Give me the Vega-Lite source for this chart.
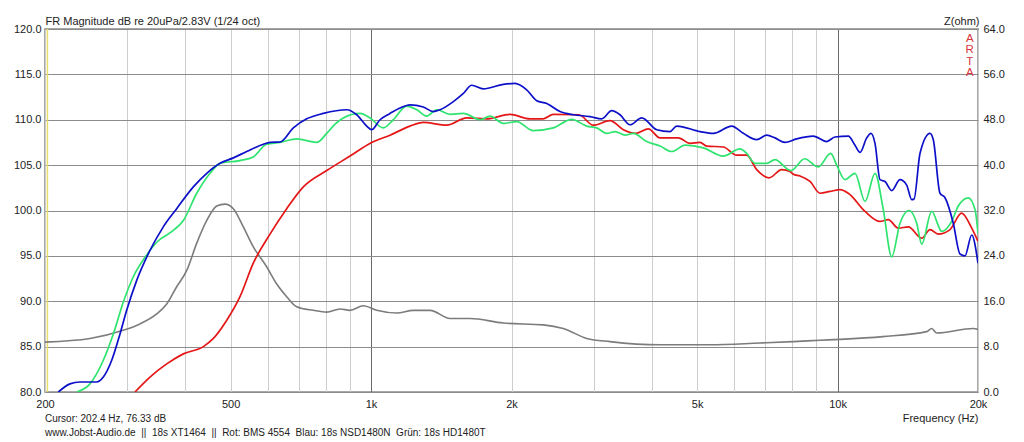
{
  "$schema": "https://vega.github.io/schema/vega-lite/v6.json",
  "description": "ARTA frequency response, 18s XT1464 with three compression drivers, plus impedance",
  "width": 933,
  "height": 363,
  "autosize": {"type": "none"},
  "padding": {"left": 45, "top": 29, "right": 46, "bottom": 50},
  "background": "white",
  "config": {
    "font": "Liberation Sans",
    "view": {"stroke": "#8a8a8a", "strokeWidth": 1.5},
    "axis": {
      "labelFont": "Liberation Sans", "labelFontSize": 11, "labelColor": "#222",
      "titleFont": "Liberation Sans", "titleFontSize": 11, "titleFontWeight": "normal", "titleColor": "#222",
      "ticks": false, "domain": false
    }
  },
  "title": {
    "text": "Cursor: 202.4 Hz, 76.33 dB",
    "subtitle": "www.Jobst-Audio.de \u00a0||\u00a0 18s XT1464 \u00a0||\u00a0 Rot: BMS 4554 \u00a0Blau: 18s NSD1480N \u00a0Grün: 18s HD1480T",
    "orient": "bottom", "anchor": "start", "frame": "group", "offset": -9,
    "font": "Liberation Sans", "fontSize": 10, "fontWeight": "normal", "color": "#222",
    "subtitleFont": "Liberation Sans", "subtitleFontSize": 10, "subtitleColor": "#222", "subtitlePadding": 4
  },
  "datasets": {
    "fr": [
      {"s": "Rot", "f": 311.8, "db": 80.0}, {"s": "Rot", "f": 335.8, "db": 81.65}, {"s": "Rot", "f": 364.7, "db": 83.1},
      {"s": "Rot", "f": 395.9, "db": 84.2}, {"s": "Rot", "f": 437, "db": 85.0}, {"s": "Rot", "f": 459.2, "db": 85.9},
      {"s": "Rot", "f": 490.5, "db": 87.9}, {"s": "Rot", "f": 523.6, "db": 90.5}, {"s": "Rot", "f": 559.2, "db": 94.2},
      {"s": "Rot", "f": 607.2, "db": 97.4}, {"s": "Rot", "f": 659.4, "db": 100.2}, {"s": "Rot", "f": 715.8, "db": 102.6},
      {"s": "Rot", "f": 803.5, "db": 104.4}, {"s": "Rot", "f": 901.3, "db": 106.0}, {"s": "Rot", "f": 1003, "db": 107.5},
      {"s": "Rot", "f": 1098, "db": 108.3}, {"s": "Rot", "f": 1212, "db": 109.3}, {"s": "Rot", "f": 1294, "db": 109.7},
      {"s": "Rot", "f": 1453, "db": 109.4}, {"s": "Rot", "f": 1603, "db": 110.2}, {"s": "Rot", "f": 1769, "db": 110.1},
      {"s": "Rot", "f": 1985, "db": 110.6}, {"s": "Rot", "f": 2191, "db": 110.1}, {"s": "Rot", "f": 2340, "db": 110.1},
      {"s": "Rot", "f": 2458, "db": 110.6}, {"s": "Rot", "f": 2790, "db": 110.55}, {"s": "Rot", "f": 2995, "db": 109.4},
      {"s": "Rot", "f": 3252, "db": 109.9}, {"s": "Rot", "f": 3474, "db": 108.9}, {"s": "Rot", "f": 3700, "db": 108.5},
      {"s": "Rot", "f": 3930, "db": 109.0}, {"s": "Rot", "f": 4164, "db": 108.0}, {"s": "Rot", "f": 4557, "db": 108.0},
      {"s": "Rot", "f": 4828, "db": 107.4}, {"s": "Rot", "f": 5072, "db": 107.5}, {"s": "Rot", "f": 5242, "db": 107.1},
      {"s": "Rot", "f": 5689, "db": 107.0}, {"s": "Rot", "f": 6077, "db": 106.1}, {"s": "Rot", "f": 6385, "db": 106.1},
      {"s": "Rot", "f": 6709, "db": 104.5}, {"s": "Rot", "f": 7130, "db": 103.6}, {"s": "Rot", "f": 7590, "db": 104.5},
      {"s": "Rot", "f": 7907, "db": 104.3}, {"s": "Rot", "f": 8038, "db": 104.0}, {"s": "Rot", "f": 8307, "db": 103.8},
      {"s": "Rot", "f": 8727, "db": 103.2}, {"s": "Rot", "f": 9170, "db": 101.9}, {"s": "Rot", "f": 9633, "db": 102.1},
      {"s": "Rot", "f": 10122, "db": 102.3}, {"s": "Rot", "f": 10545, "db": 101.9}, {"s": "Rot", "f": 11452, "db": 99.9},
      {"s": "Rot", "f": 12329, "db": 98.8}, {"s": "Rot", "f": 12845, "db": 99.0}, {"s": "Rot", "f": 13494, "db": 98.05},
      {"s": "Rot", "f": 14179, "db": 98.2}, {"s": "Rot", "f": 15148, "db": 96.95}, {"s": "Rot", "f": 15781, "db": 97.9},
      {"s": "Rot", "f": 16442, "db": 97.4}, {"s": "Rot", "f": 17419, "db": 97.9}, {"s": "Rot", "f": 18451, "db": 99.7},
      {"s": "Rot", "f": 19388, "db": 98.05}, {"s": "Rot", "f": 20000, "db": 96.6},

      {"s": "Grün", "f": 233.9, "db": 80.0}, {"s": "Grün", "f": 249.7, "db": 80.9}, {"s": "Grün", "f": 266.7, "db": 83.5},
      {"s": "Grün", "f": 280.2, "db": 86.4}, {"s": "Grün", "f": 294.3, "db": 89.9}, {"s": "Grün", "f": 309.3, "db": 92.7},
      {"s": "Grün", "f": 330.4, "db": 95.1}, {"s": "Grün", "f": 347.1, "db": 96.5}, {"s": "Grün", "f": 376.7, "db": 97.8},
      {"s": "Grün", "f": 395.9, "db": 98.9}, {"s": "Grün", "f": 423, "db": 101.9}, {"s": "Grün", "f": 451.7, "db": 104.1},
      {"s": "Grün", "f": 474.5, "db": 105.2}, {"s": "Grün", "f": 523.6, "db": 105.5}, {"s": "Grün", "f": 559.2, "db": 105.9},
      {"s": "Grün", "f": 597.3, "db": 107.3}, {"s": "Grün", "f": 638, "db": 107.5}, {"s": "Grün", "f": 692.7, "db": 107.9},
      {"s": "Grün", "f": 727.9, "db": 107.7}, {"s": "Grün", "f": 764.7, "db": 107.5}, {"s": "Grün", "f": 803.5, "db": 108.5},
      {"s": "Grün", "f": 836, "db": 109.5}, {"s": "Grün", "f": 871.9, "db": 110.2}, {"s": "Grün", "f": 946.9, "db": 110.7},
      {"s": "Grün", "f": 995, "db": 110.2}, {"s": "Grün", "f": 1062, "db": 109.1}, {"s": "Grün", "f": 1116, "db": 110.0},
      {"s": "Grün", "f": 1192, "db": 111.5}, {"s": "Grün", "f": 1253, "db": 111.1}, {"s": "Grün", "f": 1316, "db": 110.4},
      {"s": "Grün", "f": 1383, "db": 111.1}, {"s": "Grün", "f": 1477, "db": 110.6}, {"s": "Grün", "f": 1577, "db": 110.7},
      {"s": "Grün", "f": 1712, "db": 110.0}, {"s": "Grün", "f": 1799, "db": 110.4}, {"s": "Grün", "f": 1921, "db": 109.6},
      {"s": "Grün", "f": 2052, "db": 109.8}, {"s": "Grün", "f": 2227, "db": 108.8}, {"s": "Grün", "f": 2458, "db": 109.1},
      {"s": "Grün", "f": 2692, "db": 110.05}, {"s": "Grün", "f": 2899, "db": 109.3}, {"s": "Grün", "f": 3046, "db": 109.1},
      {"s": "Grün", "f": 3200, "db": 108.5}, {"s": "Grün", "f": 3334, "db": 108.7}, {"s": "Grün", "f": 3503, "db": 108.3},
      {"s": "Grün", "f": 3649, "db": 108.5}, {"s": "Grün", "f": 3899, "db": 107.6}, {"s": "Grün", "f": 4164, "db": 107.1},
      {"s": "Grün", "f": 4411, "db": 106.5}, {"s": "Grün", "f": 4710, "db": 107.2}, {"s": "Grün", "f": 5155, "db": 106.9},
      {"s": "Grün", "f": 5689, "db": 106.0}, {"s": "Grün", "f": 6178, "db": 106.8}, {"s": "Grün", "f": 6385, "db": 106.3},
      {"s": "Grün", "f": 6653, "db": 105.2}, {"s": "Grün", "f": 7049, "db": 105.2}, {"s": "Grün", "f": 7340, "db": 105.6},
      {"s": "Grün", "f": 7940, "db": 104.4}, {"s": "Grün", "f": 8500, "db": 105.7}, {"s": "Grün", "f": 9092, "db": 104.8},
      {"s": "Grün", "f": 9666, "db": 106.3}, {"s": "Grün", "f": 9958, "db": 105.0}, {"s": "Grün", "f": 10374, "db": 103.4},
      {"s": "Grün", "f": 10897, "db": 104.1}, {"s": "Grün", "f": 11452, "db": 101.0}, {"s": "Grün", "f": 12030, "db": 104.1},
      {"s": "Grün", "f": 12532, "db": 100.1}, {"s": "Grün", "f": 13063, "db": 94.9}, {"s": "Grün", "f": 13609, "db": 98.6},
      {"s": "Grün", "f": 14228, "db": 100.0}, {"s": "Grün", "f": 14779, "db": 98.6}, {"s": "Grün", "f": 15148, "db": 96.3},
      {"s": "Grün", "f": 15913, "db": 99.9}, {"s": "Grün", "f": 16720, "db": 97.7}, {"s": "Grün", "f": 17564, "db": 98.8},
      {"s": "Grün", "f": 18144, "db": 100.5}, {"s": "Grün", "f": 19065, "db": 101.4}, {"s": "Grün", "f": 19707, "db": 100.1},
      {"s": "Grün", "f": 20000, "db": 97.5},

      {"s": "Blau", "f": 213.6, "db": 80.0}, {"s": "Blau", "f": 226.2, "db": 80.9}, {"s": "Blau", "f": 237.7, "db": 81.1},
      {"s": "Blau", "f": 249.7, "db": 81.1}, {"s": "Blau", "f": 258.1, "db": 81.1}, {"s": "Blau", "f": 266.7, "db": 81.65},
      {"s": "Blau", "f": 278, "db": 83.5}, {"s": "Blau", "f": 289.6, "db": 86.4}, {"s": "Blau", "f": 299.3, "db": 89.0},
      {"s": "Blau", "f": 314.5, "db": 92.3}, {"s": "Blau", "f": 335.8, "db": 95.6}, {"s": "Blau", "f": 358.6, "db": 98.2},
      {"s": "Blau", "f": 383.1, "db": 100.2}, {"s": "Blau", "f": 415.9, "db": 102.6}, {"s": "Blau", "f": 444.4, "db": 104.1},
      {"s": "Blau", "f": 474.5, "db": 105.2}, {"s": "Blau", "f": 506.7, "db": 105.8}, {"s": "Blau", "f": 541.3, "db": 106.5},
      {"s": "Blau", "f": 587.5, "db": 107.3}, {"s": "Blau", "f": 607.2, "db": 107.5}, {"s": "Blau", "f": 638, "db": 107.55},
      {"s": "Blau", "f": 681.3, "db": 109.1}, {"s": "Blau", "f": 727.9, "db": 110.1}, {"s": "Blau", "f": 790.1, "db": 110.7},
      {"s": "Blau", "f": 886.7, "db": 111.1}, {"s": "Blau", "f": 931.7, "db": 110.55}, {"s": "Blau", "f": 978.8, "db": 109.3},
      {"s": "Blau", "f": 1003, "db": 108.9}, {"s": "Blau", "f": 1045, "db": 110.0}, {"s": "Blau", "f": 1098, "db": 110.7},
      {"s": "Blau", "f": 1154, "db": 111.3}, {"s": "Blau", "f": 1212, "db": 111.65}, {"s": "Blau", "f": 1294, "db": 111.4},
      {"s": "Blau", "f": 1360, "db": 110.9}, {"s": "Blau", "f": 1405, "db": 111.1}, {"s": "Blau", "f": 1501, "db": 112.0},
      {"s": "Blau", "f": 1577, "db": 112.9}, {"s": "Blau", "f": 1643, "db": 113.8}, {"s": "Blau", "f": 1740, "db": 113.4},
      {"s": "Blau", "f": 1921, "db": 113.9}, {"s": "Blau", "f": 2035, "db": 114.0}, {"s": "Blau", "f": 2156, "db": 113.3},
      {"s": "Blau", "f": 2265, "db": 112.1}, {"s": "Blau", "f": 2380, "db": 111.8}, {"s": "Blau", "f": 2541, "db": 110.9},
      {"s": "Blau", "f": 2714, "db": 110.55}, {"s": "Blau", "f": 2947, "db": 110.35}, {"s": "Blau", "f": 3122, "db": 110.1},
      {"s": "Blau", "f": 3280, "db": 111.0}, {"s": "Blau", "f": 3417, "db": 110.55}, {"s": "Blau", "f": 3590, "db": 109.45},
      {"s": "Blau", "f": 3804, "db": 110.2}, {"s": "Blau", "f": 4097, "db": 108.9}, {"s": "Blau", "f": 4375, "db": 108.7},
      {"s": "Blau", "f": 4521, "db": 109.3}, {"s": "Blau", "f": 5072, "db": 108.7}, {"s": "Blau", "f": 5417, "db": 108.5},
      {"s": "Blau", "f": 5930, "db": 109.3}, {"s": "Blau", "f": 6279, "db": 108.5}, {"s": "Blau", "f": 6709, "db": 107.8},
      {"s": "Blau", "f": 7049, "db": 108.3}, {"s": "Blau", "f": 7342, "db": 108.0}, {"s": "Blau", "f": 7715, "db": 107.5},
      {"s": "Blau", "f": 8172, "db": 107.9}, {"s": "Blau", "f": 8871, "db": 108.2}, {"s": "Blau", "f": 9477, "db": 107.6},
      {"s": "Blau", "f": 9873, "db": 108.1}, {"s": "Blau", "f": 10545, "db": 108.2}, {"s": "Blau", "f": 10897, "db": 107.2},
      {"s": "Blau", "f": 11171, "db": 106.4}, {"s": "Blau", "f": 11547, "db": 108.0}, {"s": "Blau", "f": 11794, "db": 108.5},
      {"s": "Blau", "f": 12030, "db": 107.4}, {"s": "Blau", "f": 12329, "db": 103.4}, {"s": "Blau", "f": 12637, "db": 103.2},
      {"s": "Blau", "f": 13063, "db": 102.2}, {"s": "Blau", "f": 13609, "db": 103.4}, {"s": "Blau", "f": 14065, "db": 102.8},
      {"s": "Blau", "f": 14419, "db": 101.2}, {"s": "Blau", "f": 14583, "db": 101.25}, {"s": "Blau", "f": 15023, "db": 106.3},
      {"s": "Blau", "f": 15781, "db": 108.5}, {"s": "Blau", "f": 16041, "db": 107.8}, {"s": "Blau", "f": 16578, "db": 101.9},
      {"s": "Blau", "f": 16996, "db": 101.4}, {"s": "Blau", "f": 17702, "db": 98.6}, {"s": "Blau", "f": 18299, "db": 95.2},
      {"s": "Blau", "f": 18756, "db": 95.0}, {"s": "Blau", "f": 19388, "db": 97.3}, {"s": "Blau", "f": 20000, "db": 94.2}
    ],
    "imp": [
      {"f": 200, "z": 8.8}, {"f": 249.7, "z": 9.44}, {"f": 294.3, "z": 10.88}, {"f": 319.6, "z": 12.0},
      {"f": 347.1, "z": 13.76}, {"f": 364.7, "z": 15.52}, {"f": 383.1, "z": 18.56}, {"f": 402.6, "z": 21.44},
      {"f": 423, "z": 26.24}, {"f": 444.4, "z": 30.24}, {"f": 466.9, "z": 32.8}, {"f": 486.4, "z": 33.12},
      {"f": 506.7, "z": 32.32}, {"f": 532.3, "z": 29.12}, {"f": 559.2, "z": 25.6}, {"f": 597.3, "z": 22.08},
      {"f": 627.7, "z": 19.04}, {"f": 659.4, "z": 16.8}, {"f": 692.7, "z": 15.04}, {"f": 752, "z": 14.4},
      {"f": 803.5, "z": 14.08}, {"f": 858, "z": 14.64}, {"f": 901.3, "z": 14.4}, {"f": 962.5, "z": 15.2},
      {"f": 1028, "z": 14.4}, {"f": 1135, "z": 13.92}, {"f": 1232, "z": 14.4}, {"f": 1338, "z": 14.4},
      {"f": 1477, "z": 12.96}, {"f": 1629, "z": 12.96}, {"f": 1921, "z": 12.16}, {"f": 2340, "z": 11.84},
      {"f": 2582, "z": 11.2}, {"f": 2899, "z": 9.44}, {"f": 3252, "z": 8.88}, {"f": 4164, "z": 8.32},
      {"f": 5329, "z": 8.32}, {"f": 6819, "z": 8.64}, {"f": 8038, "z": 8.88}, {"f": 9170, "z": 9.12},
      {"f": 10122, "z": 9.28}, {"f": 12500, "z": 9.76}, {"f": 15525, "z": 10.64}, {"f": 15913, "z": 11.2},
      {"f": 16310, "z": 10.4}, {"f": 19541, "z": 11.2}, {"f": 20000, "z": 11.04}
    ],
    "cursor": [{"f": 202.4}],
    "logo": [{"f": 19200, "db": 119.6, "t": ["A", "R", "T", "A"]}]
  },
  "encoding": {
    "x": {
      "field": "f", "type": "quantitative",
      "scale": {"type": "log", "domain": [200, 20000], "nice": false},
      "axis": {
        "values": [200, 300, 400, 500, 600, 700, 800, 900, 1000, 2000, 3000, 4000, 5000, 6000, 7000, 8000, 9000, 10000, 20000],
        "labelExpr": "datum.value == 200 ? '200' : datum.value == 500 ? '500' : datum.value == 1000 ? '1k' : datum.value == 2000 ? '2k' : datum.value == 5000 ? '5k' : datum.value == 10000 ? '10k' : datum.value == 20000 ? '20k' : ''",
        "labelOverlap": false, "labelFlush": false, "labelPadding": 6,
        "grid": true,
        "gridColor": {"condition": {"test": "datum.value == 1000 || datum.value == 10000", "value": "#6a6a6a"}, "value": "#cdcdcd"},
        "title": "Frequency (Hz)", "titleAnchor": "end", "titleAlign": "right", "titlePadding": 3
      }
    }
  },
  "layer": [
    {
      "data": {"name": "cursor"},
      "mark": {"type": "rule", "color": "#e6df6e", "strokeWidth": 1.5},
      "encoding": {}
    },
    {
      "data": {"name": "imp"},
      "mark": {"type": "line", "color": "#7c7c7c", "strokeWidth": 1.6, "interpolate": "monotone", "clip": true},
      "encoding": {
        "y": {
          "field": "z", "type": "quantitative",
          "scale": {"domain": [0, 64], "nice": false, "zero": false},
          "axis": {
            "orient": "right", "values": [0, 8, 16, 24, 32, 40, 48, 56, 64], "format": ".1f",
            "grid": false, "labelPadding": 5,
            "title": "Z(ohm)", "titleAngle": 0, "titleAlign": "right", "titleBaseline": "bottom",
            "titleX": 1, "titleY": -3
          }
        }
      }
    },
    {
      "data": {"name": "fr"},
      "mark": {"type": "line", "strokeWidth": 1.7, "interpolate": "monotone", "clip": true},
      "encoding": {
        "y": {
          "field": "db", "type": "quantitative",
          "scale": {"domain": [80, 120], "nice": false, "zero": false},
          "axis": {
            "values": [80, 85, 90, 95, 100, 105, 110, 115, 120], "format": ".1f",
            "grid": true, "gridColor": "#8c8c8c", "labelPadding": 4,
            "title": "FR Magnitude dB re 20uPa/2.83V (1/24 oct)", "titleAngle": 0, "titleAlign": "left",
            "titleBaseline": "bottom", "titleX": 0, "titleY": -3
          }
        },
        "color": {
          "field": "s", "type": "nominal",
          "scale": {"domain": ["Rot", "Grün", "Blau"], "range": ["#e41616", "#2ee46e", "#0c10c8"]},
          "legend": null
        }
      }
    },
    {
      "data": {"name": "logo"},
      "mark": {"type": "text", "color": "#d8343c", "fontSize": 11.5, "lineHeight": 11.5, "baseline": "top", "align": "center"},
      "encoding": {
        "y": {"field": "db", "type": "quantitative", "scale": {"domain": [80, 120], "nice": false, "zero": false}, "axis": null},
        "text": {"field": "t"}
      }
    }
  ],
  "resolve": {"scale": {"y": "independent"}}
}
